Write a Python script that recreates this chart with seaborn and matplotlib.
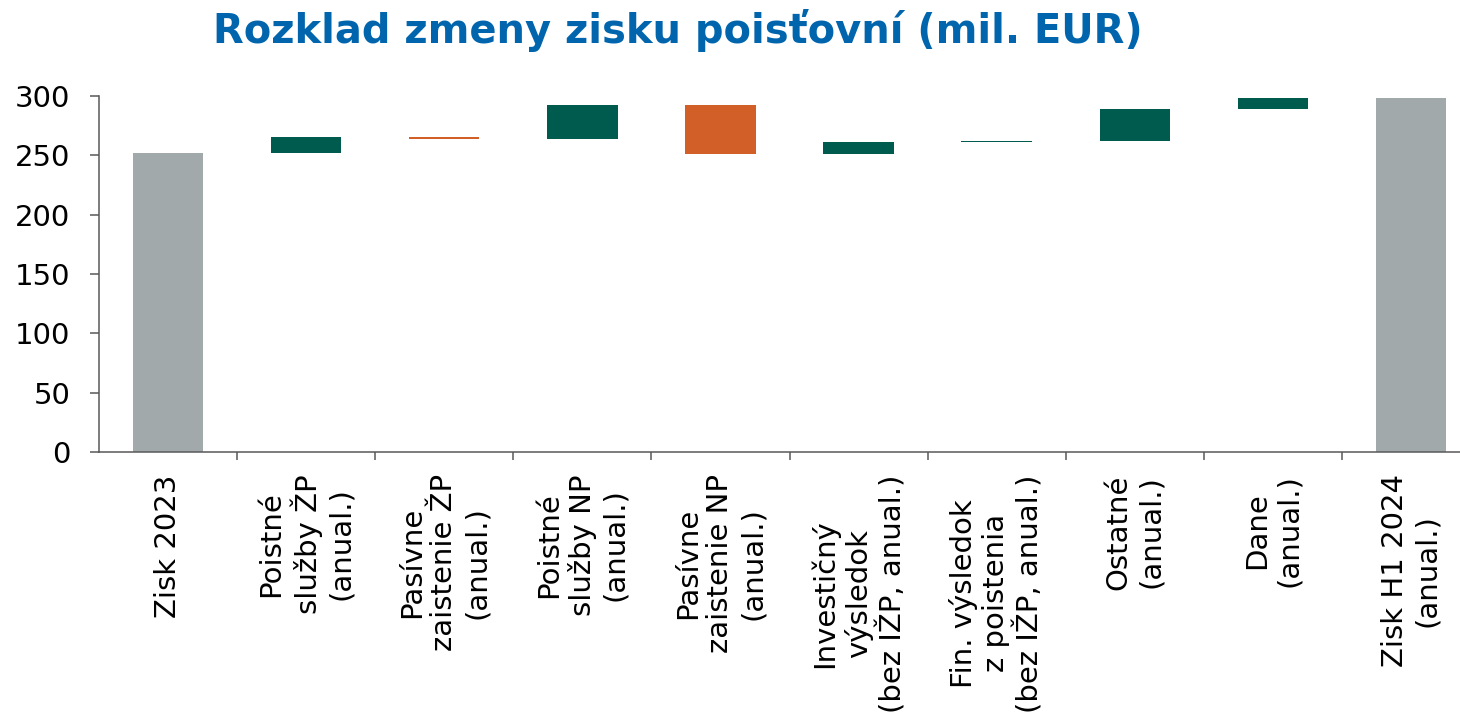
import numpy as np
import pandas as pd
import seaborn as sns
import matplotlib.pyplot as plt
from matplotlib.ticker import FixedLocator

# Data (mil. EUR)
categories = [
    "Zisk 2023",
    "Poistné\nslužby ŽP\n(anual.)",
    "Pasívne\nzaistenie ŽP\n(anual.)",
    "Poistné\nslužby NP\n(anual.)",
    "Pasívne\nzaistenie NP\n(anual.)",
    "Investičný\nvýsledok\n(bez IŽP, anual.)",
    "Fin. výsledok\nz poistenia\n(bez IŽP, anual.)",
    "Ostatné\n(anual.)",
    "Dane\n(anual.)",
    "Zisk H1 2024\n(anual.)",
]
start_value = 252.0
changes = [13.5, -1.6, 28.5, -41.3, 9.9, 1.3, 26.9, 9.3]
end_value = 298.5

GRAY = "#A2A9AB"
GREEN = "#005B4F"
ORANGE = "#D35F28"
TITLE_BLUE = "#0065AD"


def build_frame() -> pd.DataFrame:
    # Floating bars: bottom + height for each step of the waterfall
    levels = np.concatenate([[start_value], start_value + np.cumsum(changes)])
    bottoms = [0.0]
    heights = [start_value]
    colors = [GRAY]
    for i, d in enumerate(changes):
        lo = min(levels[i], levels[i + 1])
        bottoms.append(lo)
        heights.append(abs(d))
        colors.append(GREEN if d >= 0 else ORANGE)
    bottoms.append(0.0)
    heights.append(end_value)
    colors.append(GRAY)
    return pd.DataFrame({"category": categories, "height": heights,
                         "bottom": bottoms, "color": colors})


def main():
    df = build_frame()

    sns.set_style("white")
    plt.rcParams["font.family"] = ["DejaVu Sans"]
    plt.rcParams["text.color"] = "black"
    plt.rcParams["xtick.color"] = "black"
    plt.rcParams["ytick.color"] = "black"

    fig = plt.figure(figsize=(14.6, 7.23), dpi=100)
    ax = fig.add_axes([99 / 1460, 1 - 452 / 723, 1381 / 1460, 356 / 723])

    sns.barplot(data=df, x="category", y="height", order=categories,
                bottom=df["bottom"].values, width=0.51, color=GRAY,
                saturation=1, errorbar=None, ax=ax)
    for patch, c in zip(ax.patches, df["color"]):
        patch.set_facecolor(c)
        patch.set_edgecolor(c)
        patch.set_linewidth(0)

    ax.set_ylim(0, 300)
    ax.set_xlim(-0.5, len(categories) - 0.5)
    ax.set_yticks(range(0, 301, 50))
    ax.set_xlabel("")
    ax.set_ylabel("")

    # labels at the bar centres, tick marks on the category boundaries
    ax.set_xticks(range(len(categories)))
    ax.set_xticklabels(categories, rotation=90, ha="center", va="top",
                       multialignment="center", fontsize=21)
    ax.xaxis.set_minor_locator(FixedLocator(np.arange(0.5, len(categories) - 0.5, 1)))
    ax.tick_params(axis="x", which="major", length=0, pad=16, labelcolor="black")
    ax.tick_params(axis="x", which="minor", length=6, width=1.1,
                   color="#595959", direction="out", bottom=True)
    ax.tick_params(axis="y", length=6.5, width=1.1, color="#595959",
                   direction="out", left=True, pad=14, labelsize=21,
                   labelcolor="black")

    for side in ["top", "right"]:
        ax.spines[side].set_visible(False)
    for side in ["left", "bottom"]:
        ax.spines[side].set_color("#595959")
        ax.spines[side].set_linewidth(1.1)

    fig.text(678 / 1460, 1 - 31 / 723, "Rozklad zmeny zisku poisťovní (mil. EUR)",
             ha="center", va="center", fontsize=28.8, fontweight="bold",
             color=TITLE_BLUE)

    fig.savefig("out.png", dpi=100)


if __name__ == "__main__":
    main()
